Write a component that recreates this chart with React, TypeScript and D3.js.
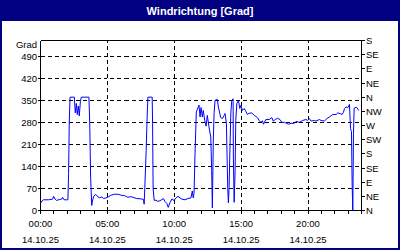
import React from "react";
import * as d3 from "d3";

const title = "Windrichtung [Grad]";
const unitLabel = "Grad";
const leftTicks = [0, 70, 140, 210, 280, 350, 420, 490];
const rightTickLabels = ["N", "NE", "E", "SE", "S", "SW", "W", "NW", "N", "NE", "E", "SE", "S"];
const xLabelHours = [0, 5, 10, 15, 20];
const xTimeLabels = ["00:00", "05:00", "10:00", "15:00", "20:00"];
const xDateLabel = "14.10.25";

const hours = [
  0.02, 0.11, 0.22, 0.6, 0.9, 0.98, 1.09, 1.2, 1.43, 1.58, 1.65, 1.76, 1.95, 2.05, 2.1, 2.15, 2.21,
  2.53, 2.6, 2.68, 2.75, 2.83, 2.9, 2.98, 3.05, 3.62, 3.68, 3.75, 3.83, 3.88, 3.98, 4.13, 4.28,
  4.43, 4.58, 4.73, 4.88, 5.03, 5.25, 5.55, 5.85, 6.08, 6.3, 6.53, 6.75, 6.98, 7.2, 7.5, 7.7,
  7.75, 7.8, 7.9, 7.97, 8.03, 8.35, 8.38, 8.42, 8.5, 8.63, 8.78, 8.93, 9.08, 9.19, 9.3, 9.45,
  9.55, 9.68, 9.83, 9.98, 10.13, 10.28, 10.43, 10.58, 10.8, 11.03, 11.25, 11.35, 11.42, 11.48,
  11.55, 11.65, 11.8, 11.85, 11.93, 12.0, 12.1, 12.17, 12.28, 12.38, 12.47, 12.6, 12.73, 12.8,
  12.85, 12.92, 12.98, 13.05, 13.22, 13.3, 13.4, 13.48, 13.6, 13.73, 13.8, 13.9, 13.95, 14.0,
  14.05, 14.1, 14.15, 14.23, 14.3, 14.4, 14.42, 14.48, 14.55, 14.6, 14.68, 14.8, 14.9, 14.98,
  15.1, 15.23, 15.35, 15.47, 15.6, 15.8, 15.98, 16.1, 16.22, 16.35, 16.48, 16.6, 16.67, 16.85,
  17.1, 17.3, 17.4, 17.55, 17.72, 17.9, 18.05, 18.23, 18.4, 18.55, 18.73, 18.98, 19.1, 19.35,
  19.6, 19.85, 19.97, 20.1, 20.23, 20.48, 20.6, 20.85, 20.98, 21.23, 21.4, 21.6, 21.85, 22.1,
  22.22, 22.4, 22.55, 22.65, 22.73, 22.85, 22.97, 23.1, 23.18, 23.25, 23.3, 23.35, 23.4, 23.45,
  23.63, 23.8,
];
const degrees = [
  24, 30, 34, 34, 36, 45, 36, 32, 35, 36, 42, 34, 34, 34, 118, 280, 360,
  360, 310, 340, 305, 332, 300, 345, 360, 360, 278, 102, 16, 30, 45, 51, 44,
  40, 43, 38, 40, 42, 48, 52, 51, 48, 47, 42, 44, 41, 38, 37, 35,
  20, 73, 191, 293, 360, 360, 277, 70, 32, 33, 29, 31, 35, 38, 29, 22,
  10, 25, 37, 32, 40, 45, 40, 36, 34, 38, 40, 62, 40, 55,
  175, 313, 329, 335, 297, 327, 297, 318, 286, 268, 302, 265, 233, 127,
  8, 223, 309, 350, 353, 329, 309, 295, 292, 302, 308, 276, 170, 69,
  24, 74, 170, 309, 350, 355, 170, 26, 127, 286, 340, 350, 324, 334,
  318, 324, 315, 305, 309, 310, 302, 299, 295, 286, 280, 285, 274, 289,
  289, 295, 284, 289, 293, 289, 280, 280, 277, 274, 277, 277, 283, 280,
  286, 289, 286, 292, 284, 286, 284, 289, 286, 284, 292, 297, 305, 305,
  310, 308, 305, 312, 324, 329, 326, 337, 260, 250, 85, 0, 245, 325,
  328, 318,
];

export default function App() {
  const W = 400;
  const H = 250;
  const x = d3.scaleLinear().domain([0, 24]).range([40.5, 361.5]);
  const y = d3.scaleLinear().domain([0, 540]).range([210.5, 40.5]);
  const font = "'Liberation Sans', Arial, sans-serif";
  const navy = "#000080";

  const pts: [number, number][] = hours.map((h, i) => [h, degrees[i]]);
  const line = d3
    .line<[number, number]>()
    .x((d) => x(d[0]))
    .y((d) => y(d[1]));

  const hourTicks = d3.range(0, 25);
  const rightTicks = d3.range(0, 541, 45);
  const gridY = leftTicks.filter((v) => v > 0);
  const gridX = xLabelHours.filter((v) => v > 0);

  return (
    <svg
      width={W}
      height={H}
      style={{ position: "absolute", left: 0, top: 0, display: "block" }}
      fontFamily={font}
    >
      <rect x={0} y={0} width={W} height={H} fill="#ffffff" />
      <rect x={0} y={0} width={W} height={21} fill={navy} />
      <rect x={1} y={1} width={W - 2} height={H - 2} fill="none" stroke={navy} strokeWidth={2} />
      <text x={200} y={15} textAnchor="middle" fill="#ffffff" fontWeight="bold" fontSize={11}>
        {title}
      </text>

      {/* grid */}
      <g stroke="#000" strokeWidth={1} strokeDasharray="4,3" shapeRendering="crispEdges">
        {gridY.map((v) => (
          <line key={"gy" + v} x1={x(0)} x2={x(24)} y1={y(v)} y2={y(v)} />
        ))}
        {gridX.map((v) => (
          <line key={"gx" + v} x1={x(v)} x2={x(v)} y1={y(0)} y2={y(540)} />
        ))}
      </g>

      {/* frame */}
      <g stroke="#000" strokeWidth={1} shapeRendering="crispEdges" fill="none">
        <line x1={x(0)} x2={x(24)} y1={y(540)} y2={y(540)} />
        <line x1={x(0)} x2={x(24)} y1={y(0)} y2={y(0)} />
        <line x1={x(0)} x2={x(0)} y1={y(0)} y2={y(540)} />
        <line x1={x(24)} x2={x(24)} y1={y(0)} y2={y(540)} />
        {hourTicks.map((h) => (
          <line key={"ht" + h} x1={x(h)} x2={x(h)} y1={y(0)} y2={y(0) + 3} />
        ))}
        {rightTicks.map((v) => (
          <line key={"rt" + v} x1={x(24)} x2={x(24) + 3} y1={y(v)} y2={y(v)} />
        ))}
        {leftTicks.map((v) => (
          <line key={"lt" + v} x1={x(0) - 3} x2={x(0)} y1={y(v)} y2={y(v)} />
        ))}
      </g>

      {/* data line */}
      <path d={line(pts) || ""} fill="none" stroke="#0000ff" strokeWidth={1} />

      {/* labels */}
      <g fontSize={9.5} fill="#000">
        <text x={37} y={48} textAnchor="end">
          {unitLabel}
        </text>
        {leftTicks.map((v) => (
          <text key={"ll" + v} x={37} y={y(v) + 3.5} textAnchor="end">
            {v}
          </text>
        ))}
        {rightTicks.map((v, i) => (
          <text key={"rl" + v} x={366} y={y(v) + 3.5} textAnchor="start">
            {rightTickLabels[i]}
          </text>
        ))}
        {xLabelHours.map((h, i) => (
          <g key={"xl" + h}>
            <text x={x(h)} y={227} textAnchor="middle">
              {xTimeLabels[i]}
            </text>
            <text x={x(h)} y={243} textAnchor="middle">
              {xDateLabel}
            </text>
          </g>
        ))}
      </g>
    </svg>
  );
}
